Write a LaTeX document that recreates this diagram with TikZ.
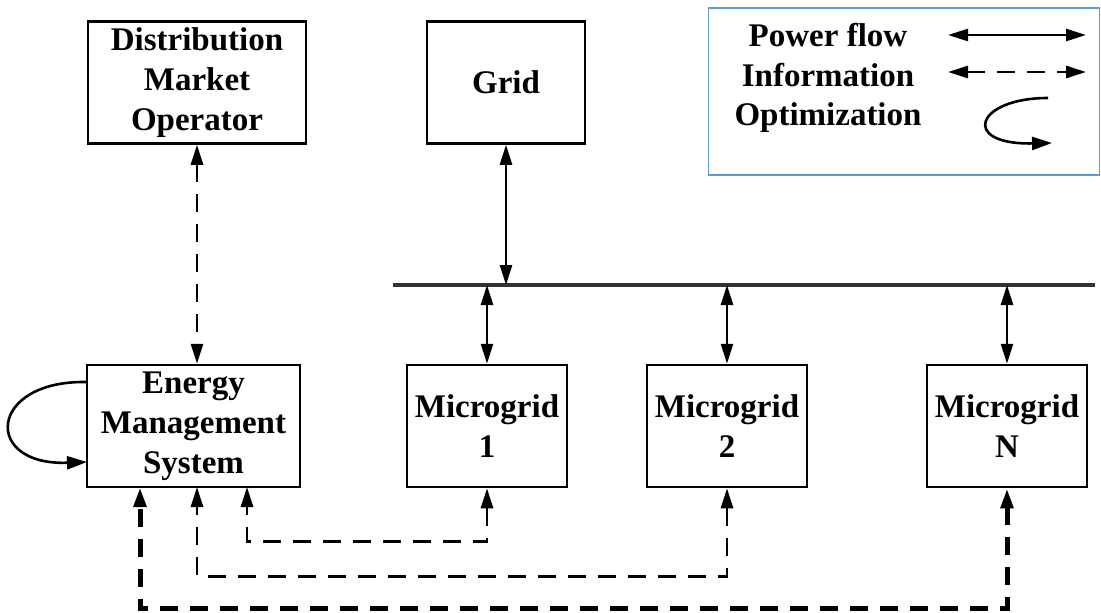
\documentclass[tikz,border=0pt]{standalone}
\usepackage{fontspec}
\setmainfont{Liberation Serif}
\usetikzlibrary{arrows.meta}

\definecolor{legendblue}{RGB}{91,155,213}

\tikzset{
  block/.style={shape=rectangle,draw=black,line width=2.5pt,align=center,
    minimum height=122pt,inner sep=0pt,font=\fontsize{33}{40}\selectfont\bfseries},
  tip/.style={-{Triangle[length=20pt,width=13pt]}},
  power/.style={line width=2.6pt,{Triangle[length=20pt,width=12pt]}-{Triangle[length=20pt,width=12pt]}},
  info/.style={line width=2.8pt,dash pattern=on 18pt off 12pt,
    {Triangle[length=20pt,width=12pt]}-{Triangle[length=20pt,width=12pt]}},
  legtext/.style={font=\fontsize{33}{40}\selectfont\bfseries,inner sep=0pt}
}

\begin{document}
\begin{tikzpicture}[x=1pt,y=-1pt]
\useasboundingbox[fill=white] (0,0) rectangle (1101,613);

% blocks
\node[block,minimum width=218pt] (dmo) at (197,82.5) {Distribution\\Market\\Operator};
\node[block,minimum width=158pt] (grid) at (506,82.5) {Grid};
\node[block,minimum width=213pt] (ems) at (193.5,426) {Energy\\Management\\System};
\node[block,minimum width=160pt] (mg1) at (487,426) {Microgrid\\1};
\node[block,minimum width=160pt] (mg2) at (727,426) {Microgrid\\2};
\node[block,minimum width=160pt] (mgN) at (1007,426) {Microgrid\\N};

% bus
\coordinate (busW) at (393,285);
\coordinate (busE) at (1095,285);
\draw[line width=3.5pt,black!80] (busW) -- (busE);

% power flow
\path[power] (grid.south) edge (grid.south |- busW);
\path[power] (mg1.north |- busW) edge (mg1.north);
\path[power] (mg2.north |- busW) edge (mg2.north);
\path[power] (mgN.north |- busW) edge (mgN.north);

% information
\path[info] (dmo.south) edge (dmo.south |- ems.north);
\coordinate (e1) at (247,487);
\coordinate (e2) at (197,487);
\coordinate (e3) at (140,487);
\draw[info] (mg1.south) -- ++(0,53) -| (e1);
\draw[info] (mg2.south) -- ++(0,88) -| (e2);
\draw[info,line width=5pt] (mgN.south) -- ++(0,120) -| (e3);

% optimization loop
\coordinate (lt) at (87,382);
\coordinate (lb) at (87,462);
\draw[line width=2.6pt,tip] (lt) .. controls (-12,380) and (-18,466) .. (lb);

% legend
\node[draw=legendblue,line width=1.5pt,minimum width=391pt,minimum height=167pt,inner sep=0pt]
  (legend) at (904,91.5) {};
\node[legtext] (lpow) at (828,35) {Power flow};
\node[legtext] (linf) at (828,75) {Information};
\node[legtext] (lopt) at (828,118) {Optimization};
\coordinate (pa) at (948,35);
\coordinate (pb) at (1086,35);
\coordinate (ia) at (948,72);
\coordinate (ib) at (1086,72);
\path[power] (pa) edge (pb);
\path[info] (ia) edge (ib);
\coordinate (oa) at (1048,98);
\coordinate (ob) at (1052,143);
\draw[line width=2.6pt,tip] (oa) .. controls (975,98) and (960,145) .. (ob);
\end{tikzpicture}
\end{document}
